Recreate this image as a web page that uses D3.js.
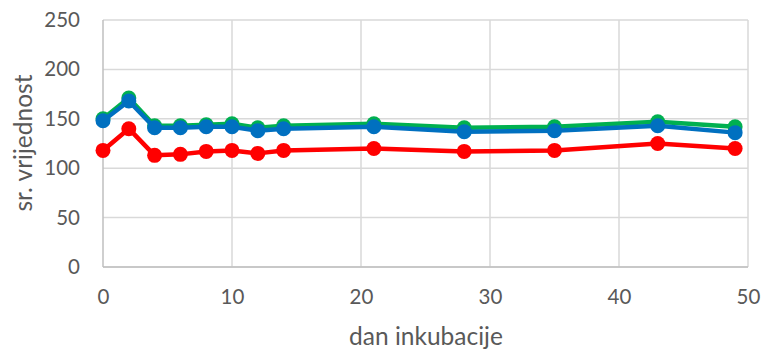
<!DOCTYPE html>
<html>
<head>
<meta charset="utf-8">
<script src="https://cdn.jsdelivr.net/npm/d3@7"></script>
<style>
  html, body { margin: 0; padding: 0; background: #fff; }
  svg text { font-family: Lato, "Open Sans", sans-serif; fill: #595959; }
</style>
</head>
<body>
<svg id="chart" width="765" height="353"></svg>
<script>
// incubation day for each measurement
const days = [0, 2, 4, 6, 8, 10, 12, 14, 21, 28, 35, 43, 49];
// mean values per series
const greenValues = [150, 171, 143, 143, 144, 145, 141, 143, 145, 141, 142, 147, 142];
const blueValues  = [148, 168, 141, 141, 142, 142, 138, 140, 142, 137, 138, 143, 136];
const redValues   = [118, 140, 113, 114, 117, 118, 115, 118, 120, 117, 118, 125, 120];
const xTicks = [0, 10, 20, 30, 40, 50];
const yTicks = [0, 50, 100, 150, 200, 250];

const series = [
  { name: "green", color: "#00B050", values: greenValues },
  { name: "red",   color: "#FF0000", values: redValues },
  { name: "blue",  color: "#0070C0", values: blueValues }
];

const svg = d3.select("#chart");
const margin = { left: 103, right: 17, top: 20, bottom: 86 };
const W = 765, H = 353;

const x = d3.scaleLinear().domain([0, 50]).range([margin.left, W - margin.right]);
const y = d3.scaleLinear().domain([0, 250]).range([H - margin.bottom, margin.top]);

// gridlines
const grid = svg.append("g");
grid.selectAll("line.h").data(yTicks).join("line")
  .attr("x1", x(0)).attr("x2", x(50))
  .attr("y1", d => y(d)).attr("y2", d => y(d))
  .attr("stroke", "#d9d9d9").attr("stroke-width", 1.5);
grid.selectAll("line.v").data(xTicks.filter(d => d > 0)).join("line")
  .attr("x1", d => x(d)).attr("x2", d => x(d))
  .attr("y1", y(0)).attr("y2", y(250))
  .attr("stroke", "#d9d9d9").attr("stroke-width", 1.5);

// axis lines
svg.append("line").attr("x1", x(0)).attr("x2", x(0)).attr("y1", y(0)).attr("y2", y(250))
  .attr("stroke", "#bfbfbf").attr("stroke-width", 1.5);
svg.append("line").attr("x1", x(0)).attr("x2", x(50)).attr("y1", y(0)).attr("y2", y(0))
  .attr("stroke", "#bfbfbf").attr("stroke-width", 1.5);

// axis tick labels via d3 axes
const xAxis = d3.axisBottom(x).tickValues(xTicks).tickSize(0).tickPadding(22);
const gx = svg.append("g").attr("transform", `translate(0,${y(0)})`).call(xAxis);
gx.select(".domain").remove();
gx.selectAll("text").style("font-size", "20.5px").style("fill", "#595959")
  .style("font-family", "Lato, sans-serif");

const yAxis = d3.axisLeft(y).tickValues(yTicks).tickSize(0).tickPadding(23);
const gy = svg.append("g").attr("transform", `translate(${x(0)},0)`).call(yAxis);
gy.select(".domain").remove();
gy.selectAll("text").style("font-size", "20.5px").style("fill", "#595959")
  .style("font-family", "Lato, sans-serif");

// series lines and markers
const line = d3.line().x((d, i) => x(days[i])).y(d => y(d));
series.forEach(s => {
  const g = svg.append("g");
  g.append("path").datum(s.values)
    .attr("d", line).attr("fill", "none")
    .attr("stroke", s.color).attr("stroke-width", 4.5)
    .attr("stroke-linejoin", "round");
  g.selectAll("circle").data(s.values).join("circle")
    .attr("cx", (d, i) => x(days[i])).attr("cy", d => y(d))
    .attr("r", 7.5).attr("fill", s.color);
});

// axis titles
svg.append("text").attr("x", 426).attr("y", 345)
  .attr("text-anchor", "middle").style("font-size", "24.5px").text("dan inkubacije");
svg.append("text").attr("transform", `translate(32,143) rotate(-90)`)
  .attr("text-anchor", "middle").style("font-size", "24.5px").text("sr. vrijednost");
</script>
</body>
</html>
